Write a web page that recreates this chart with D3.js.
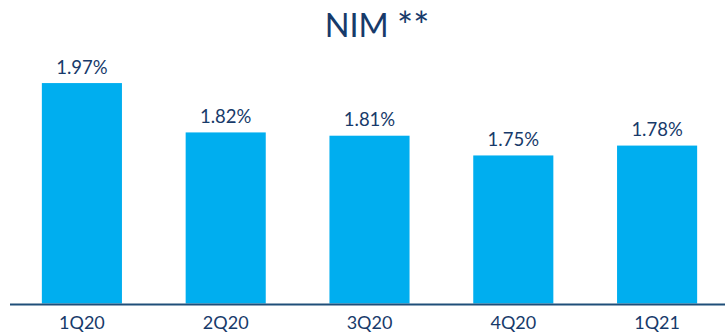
<!DOCTYPE html>
<html>
<head>
<meta charset="utf-8">
<script src="https://cdn.jsdelivr.net/npm/d3@7"></script>
<style>
  html, body { margin: 0; padding: 0; background: #ffffff; }
  svg { display: block; }
  text { font-family: Lato, "Open Sans", sans-serif; fill: #173a6a; }
</style>
</head>
<body>
<svg id="chart" width="725" height="333"></svg>
<script>
// Quarterly net interest margin, in percent
const quarters = ["1Q20", "2Q20", "3Q20", "4Q20", "1Q21"];
const nim = [1.97, 1.82, 1.81, 1.75, 1.78];
const titleMain = "NIM";
const titleMark = "**";

const W = 725, H = 333;
const svg = d3.select("#chart");

const x = d3.scaleBand()
  .domain(quarters)
  .range([10, 729])
  .paddingInner(0.443)
  .paddingOuter(0.2215);

const y = d3.scaleLinear()
  .domain([1.3, 2.0])
  .range([303.5, 73.2]);

// title, with enlarged asterisks
const t = svg.append("text")
  .attr("x", 377)
  .attr("y", 37)
  .attr("text-anchor", "middle")
  .style("font-size", "32.5px");
t.append("tspan").text(titleMain + " ");
t.append("tspan").style("font-size", "38px").attr("dy", 3).text(titleMark);

// bars
svg.append("g").selectAll("rect")
  .data(quarters)
  .join("rect")
  .attr("x", d => x(d))
  .attr("width", x.bandwidth())
  .attr("y", (d, i) => y(nim[i]))
  .attr("height", (d, i) => y(1.3) - y(nim[i]))
  .attr("fill", "#00aeef");

// value labels
svg.append("g").selectAll("text")
  .data(quarters)
  .join("text")
  .attr("x", d => x(d) + x.bandwidth() / 2)
  .attr("y", (d, i) => y(nim[i]) - 9.5)
  .attr("text-anchor", "middle")
  .style("font-size", "18.5px")
  .text((d, i) => d3.format(".2f")(nim[i]) + "%");

// category axis
const axis = svg.append("g")
  .attr("transform", `translate(0,${y(1.3)})`)
  .call(d3.axisBottom(x).tickSize(0).tickPadding(0));
axis.select(".domain").remove();
axis.selectAll("text")
  .attr("dy", null)
  .attr("y", 25.5)
  .style("font-size", "18px")
  .style("font-family", "Lato, sans-serif")
  .attr("fill", "#173a6a");

svg.append("line")
  .attr("x1", 10).attr("x2", W)
  .attr("y1", 304.5).attr("y2", 304.5)
  .attr("stroke", "#1f4e79")
  .attr("stroke-width", 2);
</script>
</body>
</html>
